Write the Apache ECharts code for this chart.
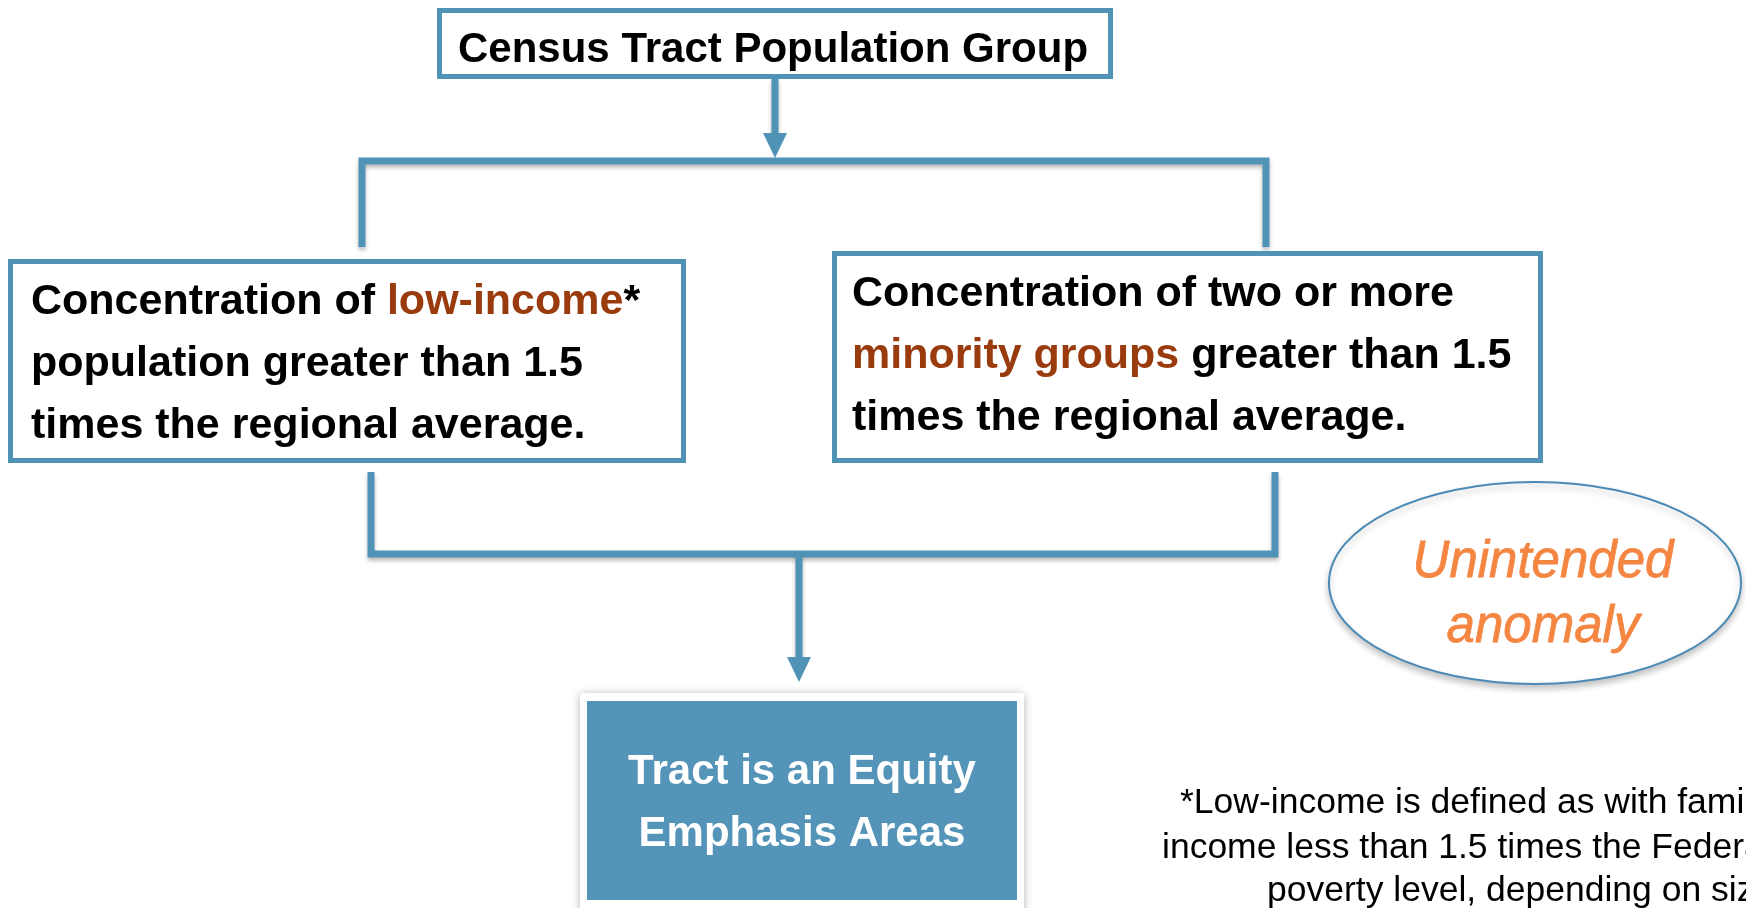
<!DOCTYPE html>
<html>
<head>
<meta charset="utf-8">
<script src="https://cdn.jsdelivr.net/npm/echarts@6/dist/echarts.min.js"></script>
<style>
html,body{margin:0;padding:0;background:#ffffff;}
#chart{width:1746px;height:908px;}
</style>
</head>
<body>
<div id="chart"></div>
<script>
// ---- content (texts of the diagram) ----
var titleText = 'Census Tract Population Group';
var leftBoxLines = [
  [['Concentration of ', 't'], ['low-income', 'h'], ['*', 't']],
  [['population greater than 1.5', 't']],
  [['times the regional average.', 't']]
];
var rightBoxLines = [
  [['Concentration of two or more', 't']],
  [['minority groups', 'h'], [' greater than 1.5', 't']],
  [['times the regional average.', 't']]
];
var resultLines = ['Tract is an Equity', 'Emphasis Areas'];
var anomalyLines = ['Unintended', 'anomaly'];
var footnoteLines = [
  '*Low-income is defined as with family',
  'income less than 1.5 times the Federal',
  'poverty level, depending on size of family'
];

// ---- styles ----
var BLUE = '#5093B7';
var BROWN = '#9A3B0E';
var ORANGE = '#F58642';
var FONT = "'Liberation Sans', Arial, sans-serif";
var LINE_W = 7;
var shadow = { shadowBlur: 4, shadowOffsetY: 3, shadowColor: 'rgba(0,0,0,0.28)' };

function richString(lines) {
  return lines.map(function (segs) {
    return segs.map(function (s) { return '{' + s[1] + '|' + s[0] + '}'; }).join('');
  }).join('\n');
}
function boxRich(size, lh) {
  return {
    t: { fill: '#000000', font: 'bold ' + size + 'px ' + FONT, lineHeight: lh },
    h: { fill: BROWN, font: 'bold ' + size + 'px ' + FONT, lineHeight: lh }
  };
}
function seg(points) {
  return {
    type: 'polyline',
    shape: { points: points },
    style: Object.assign({ stroke: BLUE, lineWidth: LINE_W, fill: null, lineJoin: 'miter', lineCap: 'butt' }, shadow),
    z: 2
  };
}
function arrowHead(cx, yTop, yTip, halfW) {
  return {
    type: 'polygon',
    shape: { points: [[cx - halfW, yTop], [cx + halfW, yTop], [cx, yTip]] },
    style: { fill: BLUE },
    z: 3
  };
}

var elements = [];

// top box
elements.push({
  type: 'rect', shape: { x: 439.5, y: 10.5, width: 671, height: 66 },
  style: { fill: '#ffffff', stroke: BLUE, lineWidth: 5 }, z: 4
});
elements.push({
  type: 'text', x: 458, y: 50, z: 5,
  style: { text: titleText, fill: '#000000', font: 'bold 42px ' + FONT, textAlign: 'left', textVerticalAlign: 'middle' }
});

// top arrow + split connector
elements.push(seg([[775, 78], [775, 140]]));
elements.push(arrowHead(775, 133, 158, 12));
elements.push(seg([[362, 247], [362, 161], [1266, 161], [1266, 247]]));

// left box
elements.push({
  type: 'rect', shape: { x: 10.5, y: 261.5, width: 673, height: 199 },
  style: { fill: '#ffffff', stroke: BLUE, lineWidth: 5 }, z: 4
});
elements.push({
  type: 'text', x: 31, y: 364, z: 5,
  style: { text: richString(leftBoxLines), rich: boxRich(43, 62), font: 'bold 43px ' + FONT, lineHeight: 62,
           fill: '#000000', textAlign: 'left', textVerticalAlign: 'middle' }
});

// right box
elements.push({
  type: 'rect', shape: { x: 834.5, y: 253.5, width: 706, height: 207 },
  style: { fill: '#ffffff', stroke: BLUE, lineWidth: 5 }, z: 4
});
elements.push({
  type: 'text', x: 852, y: 356, z: 5,
  style: { text: richString(rightBoxLines), rich: boxRich(43, 62), font: 'bold 43px ' + FONT, lineHeight: 62,
           fill: '#000000', textAlign: 'left', textVerticalAlign: 'middle' }
});

// merge connector + down arrow
elements.push(seg([[371, 472], [371, 554], [1275, 554], [1275, 472]]));
elements.push(seg([[799, 554], [799, 662]]));
elements.push(arrowHead(799, 657, 682, 12));

// result card
elements.push({
  type: 'rect', shape: { x: 580, y: 693, width: 444, height: 230, r: 3 },
  style: { fill: '#ffffff', shadowBlur: 8, shadowOffsetY: 1, shadowColor: 'rgba(0,0,0,0.3)' }, z: 4
});
elements.push({
  type: 'rect', shape: { x: 587, y: 701, width: 430, height: 199 },
  style: { fill: '#5394B8' }, z: 5
});
elements.push({
  type: 'text', x: 802, y: 803, z: 6,
  style: { text: resultLines.join('\n'), fill: '#ffffff', font: 'bold 42px ' + FONT, lineHeight: 62,
           textAlign: 'center', textVerticalAlign: 'middle' }
});

// anomaly ellipse
elements.push({
  type: 'ellipse', shape: { cx: 1535, cy: 583, rx: 206, ry: 101 },
  style: { fill: '#ffffff', stroke: '#4A8AB5', lineWidth: 2, shadowBlur: 6, shadowOffsetY: 4, shadowColor: 'rgba(0,0,0,0.22)' },
  z: 4
});
elements.push({
  type: 'text', x: 1543, y: 595, z: 5,
  style: { text: anomalyLines.join('\n'), fill: ORANGE, font: 'italic 51px ' + FONT, lineHeight: 65,
           textAlign: 'center', textVerticalAlign: 'middle',
           stroke: ORANGE, lineWidth: 0.8 }
});

// footnote
var footX = [1180, 1162, 1267];
var footY = [803, 848, 891];
footnoteLines.forEach(function (line, i) {
  elements.push({
    type: 'text', x: footX[i], y: footY[i], z: 5,
    style: { text: line, fill: '#000000', font: '35.5px ' + FONT, textAlign: 'left', textVerticalAlign: 'middle' }
  });
});

var chart = echarts.init(document.getElementById('chart'), null, { renderer: 'canvas' });
chart.setOption({
  backgroundColor: '#ffffff',
  animation: false,
  graphic: { elements: elements }
});
</script>
</body>
</html>
